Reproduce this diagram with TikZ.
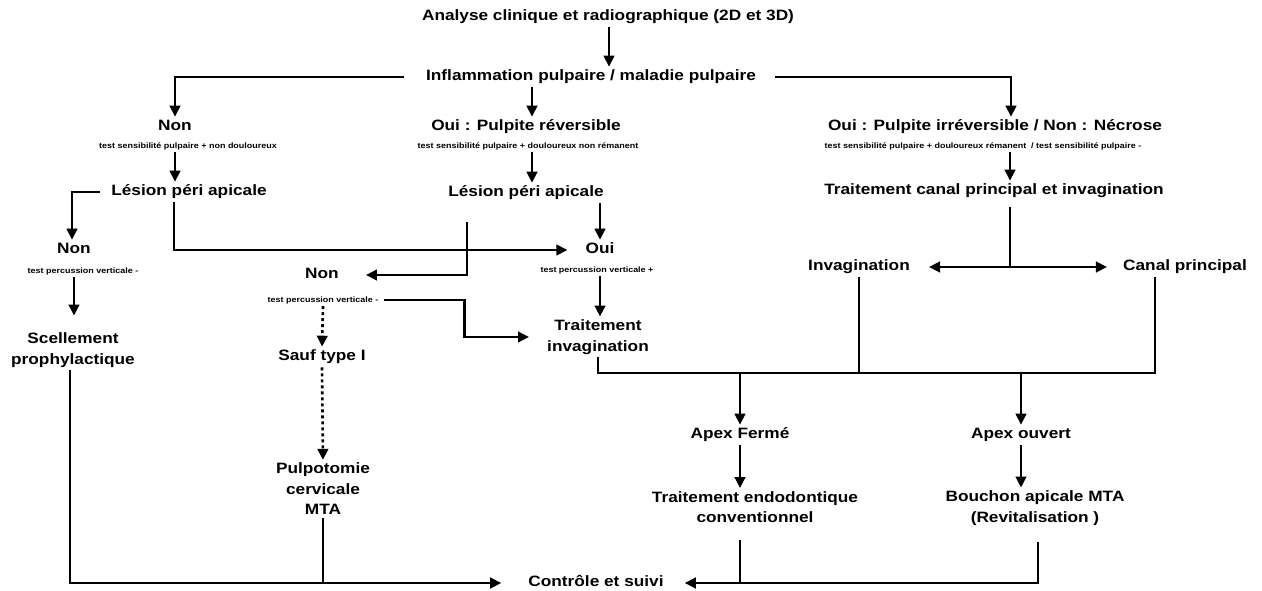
\documentclass[tikz,border=0pt]{standalone}
\usepackage{fontspec}
\newfontfamily\lblfont{Liberation Sans}[FakeStretch=1.15]
\usetikzlibrary{arrows.meta}
\tikzset{
 lbl/.style={font=\lblfont\bfseries\fontsize{15}{20.5}\selectfont, inner sep=3pt, text height=11pt, text depth=3.2pt},
 lblm/.style={font=\lblfont\bfseries\fontsize{15}{20.5}\selectfont, inner sep=3pt, align=center},
 sm/.style={font=\lblfont\bfseries\fontsize{7.8}{10}\selectfont, inner sep=2pt, text height=6pt, text depth=1.8pt},
 arr/.style={line width=2.6pt, -{Triangle[length=11pt,width=10.5pt]}},
 ln/.style={line width=2.6pt},
 dsh/.style={line width=2.6pt, dash pattern=on 3pt off 3pt, -{Triangle[length=11pt,width=10.5pt]}},
}
\begin{document}
\begin{tikzpicture}[x=1pt,y=-1pt]
\useasboundingbox[fill=white] (0,0) rectangle (1262,591);
% nodes
\node[lbl] (ana) at (608,17) {Analyse clinique et radiographique (2D et 3D)};
\node[lbl] (infl) at (591,77) {Inflammation pulpaire / maladie pulpaire};
\node[lbl] (non1) at (175,127) {Non};
\node[sm] (sub1) at (188,146) {test sensibilité pulpaire + non douloureux};
\node[lbl] (oui1) at (526,127) {Oui : Pulpite réversible};
\node[sm] (sub2) at (528,146) {test sensibilité pulpaire + douloureux non rémanent};
\node[lbl] (oui2) at (995,127) {Oui : Pulpite irréversible / Non : Nécrose};
\node[sm] (sub3) at (983,146) {test sensibilité pulpaire + douloureux rémanent~ / test sensibilité pulpaire -};
\node[lbl] (les1) at (189,192) {Lésion péri apicale};
\node[lbl] (les2) at (526,193) {Lésion péri apicale};
\node[lbl] (tcp) at (994,191) {Traitement canal principal et invagination};
\node[lbl] (non2) at (74,250) {Non};
\node[sm] (sub4) at (83,271) {test percussion verticale -};
\node[lbl] (oui3) at (600,250) {Oui};
\node[sm] (sub5) at (597,270) {test percussion verticale +};
\node[lbl] (non3) at (322,275) {Non};
\node[sm] (sub6) at (323,300) {test percussion verticale -};
\node[lbl] (inv) at (859,267) {Invagination};
\node[lbl] (cp) at (1185,267) {Canal principal};
\node[lblm] (scel) at (73,350) {Scellement\\prophylactique};
\node[lblm] (ti) at (598,337) {Traitement\\invagination};
\node[lbl] (sauf) at (322,357) {Sauf type I};
\node[lblm] (pulp) at (323,489) {Pulpotomie\\cervicale\\MTA};
\node[lbl] (af) at (740,435) {Apex Fermé};
\node[lbl] (ao) at (1021,435) {Apex ouvert};
\node[lblm] (te) at (755,507) {Traitement endodontique\\conventionnel};
\node[lblm] (bo) at (1035,508) {Bouchon apicale MTA\\(Revitalisation )};
\node[lbl] (cs) at (596,583) {Contrôle et suivi};
\coordinate (fork) at (1010,267);
\coordinate (bar) at (0,373);
% connectors
\draw[arr] ([xshift=1pt]ana.south) -- ([xshift=18pt]infl.north);
\draw[arr] ([xshift=-19pt]infl.west) -| (non1.north);
\draw[arr] ([xshift=-59pt]infl.south) -- ([xshift=6pt]oui1.north);
\draw[arr] ([xshift=16pt]infl.east) -| ([xshift=16pt]oui2.north);
\draw[arr] ([xshift=-13pt]sub1.south) -- ([xshift=-14pt]les1.north);
\draw[arr] ([xshift=4pt]sub2.south) -- ([xshift=6pt]les2.north);
\draw[arr] ([xshift=27pt]sub3.south) -- ([xshift=16pt]tcp.north);
\draw[arr] ([xshift=-8pt]les1.west) -| ([xshift=-2pt]non2.north);
\draw[arr] ([xshift=-15pt]les1.south) |- ([xshift=-15pt]oui3.west);
\draw[arr, shorten <=19pt] ([xshift=-59pt]les2.south) |- ([xshift=24pt]non3.east);
\draw[arr] ([xshift=74pt]les2.south) -- (oui3.north);
\draw[arr] ([xshift=3pt]sub5.south) -- ([xshift=2pt]ti.north);
\draw[arr] ([xshift=3pt]sub6.east) -- ++(81,0) |- ([xshift=-15pt]ti.west);
\draw[dsh] (sub6.south) -- (sauf.north);
\draw[dsh] (sauf.south) -- (pulp.north);
\draw[arr, shorten >=14pt] ([xshift=-9pt]sub4.south) -- ([xshift=1pt]scel.north);
\draw[arr] ([xshift=-3pt]scel.south) |- ([xshift=-24pt]cs.west);
\draw[ln] (pulp.south) -- (pulp.south |- cs.west);
\draw[ln, shorten <=6pt] ([xshift=16pt]tcp.south) -- (fork);
\draw[arr] (fork) -- ([xshift=16pt]inv.east);
\draw[arr] (fork) -- ([xshift=-13pt]cp.west);
\draw[ln] ([xshift=-30pt]cp.south) |- (ti.south |- bar) -- (ti.south);
\draw[ln] (inv.south) -- (inv.south |- bar);
\draw[arr] (af.north |- bar) -- (af.north);
\draw[arr] (ao.north |- bar) -- (ao.north);
\draw[arr] (af.south) -- (af.south |- te.north);
\draw[arr] (ao.south) -- (ao.south |- bo.north);
\draw[ln, shorten <=14pt] (af.south |- te.south) -- (af.south |- cs.east);
\draw[arr, shorten <=14pt] ([xshift=3pt]bo.south) |- ([xshift=18pt]cs.east);
\end{tikzpicture}
\end{document}
